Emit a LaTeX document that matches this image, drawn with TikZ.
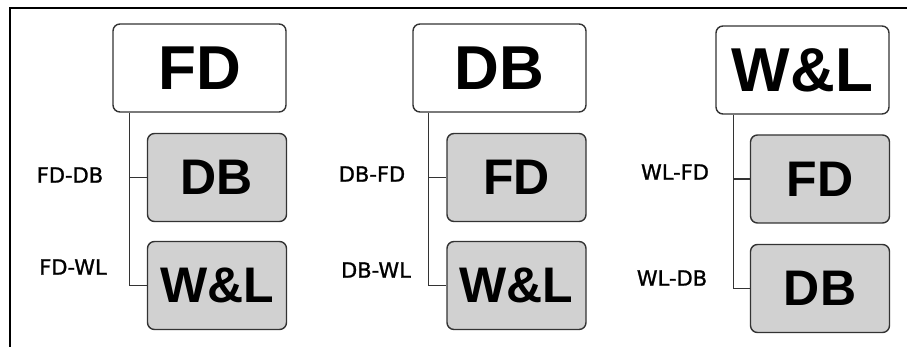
\documentclass[tikz,border=0pt]{standalone}
\usepackage{fontspec}
\setmainfont{Liberation Sans}
\newfontfamily\lblfont[FakeBold=1.2]{DejaVu Sans}
\usetikzlibrary{calc}
\begin{document}
\begin{tikzpicture}[x=1pt,y=-1pt,
  topbox/.style={draw=black!80, line width=1.4pt, rounded corners=7pt, fill=white,
    minimum width=173pt, minimum height=88pt, inner sep=0pt,
    font=\bfseries\fontsize{62}{62}\selectfont},
  childbox/.style={draw=black!80, line width=1.4pt, rounded corners=7pt, fill=black!18,
    minimum width=139pt, minimum height=88pt, inner sep=0pt,
    font=\bfseries\fontsize{50}{50}\selectfont},
  lbl/.style={inner sep=0pt, font=\lblfont\fontsize{21}{21}\selectfont},
  conn/.style={draw=black!80, line width=1.3pt}]
\useasboundingbox (0,0) rectangle (907,347);
\coordinate (frameTL) at (10,8);
\coordinate (frameTR) at (907,8);
\coordinate (frameBL) at (10,347);
\draw[line width=2.2pt] (frameTR) -- (frameTL) -- (frameBL);

% group 1
\node[topbox] (t1) at (199.5,68) {FD};
\node[childbox] (a1) at (217,177.5) {DB};
\node[childbox] (b1) at (217,285.5) {W\&L};
\node[lbl] (la1) at (70,175) {FD-DB};
\node[lbl] (lb1) at (73,267) {FD-WL};
\draw[conn] ($(t1.south west)+(17,0)$) |- (a1.west);
\draw[conn] ($(t1.south west)+(17,0)$) |- (b1.west);

% group 2
\node[topbox] (t2) at (499.5,68) {DB};
\node[childbox] (a2) at (516.5,177.5) {FD};
\node[childbox] (b2) at (516.5,285.5) {W\&L};
\node[lbl] (la2) at (372,174) {DB-FD};
\node[lbl] (lb2) at (376,270) {DB-WL};
\draw[conn] ($(t2.south west)+(16,0)$) |- (a2.west);
\draw[conn] ($(t2.south west)+(16,0)$) |- (b2.west);

% group 3
\node[topbox] (t3) at (802.5,70) {W\&L};
\node[childbox] (a3) at (820,179) {FD};
\node[childbox] (b3) at (820,288.5) {DB};
\node[lbl] (la3) at (675,172) {WL-FD};
\node[lbl] (lb3) at (672,278) {WL-DB};
\draw[conn] ($(t3.south west)+(18,0)$) |- (a3.west);
\draw[conn] ($(t3.south west)+(18,0)$) |- (b3.west);
\end{tikzpicture}
\end{document}
